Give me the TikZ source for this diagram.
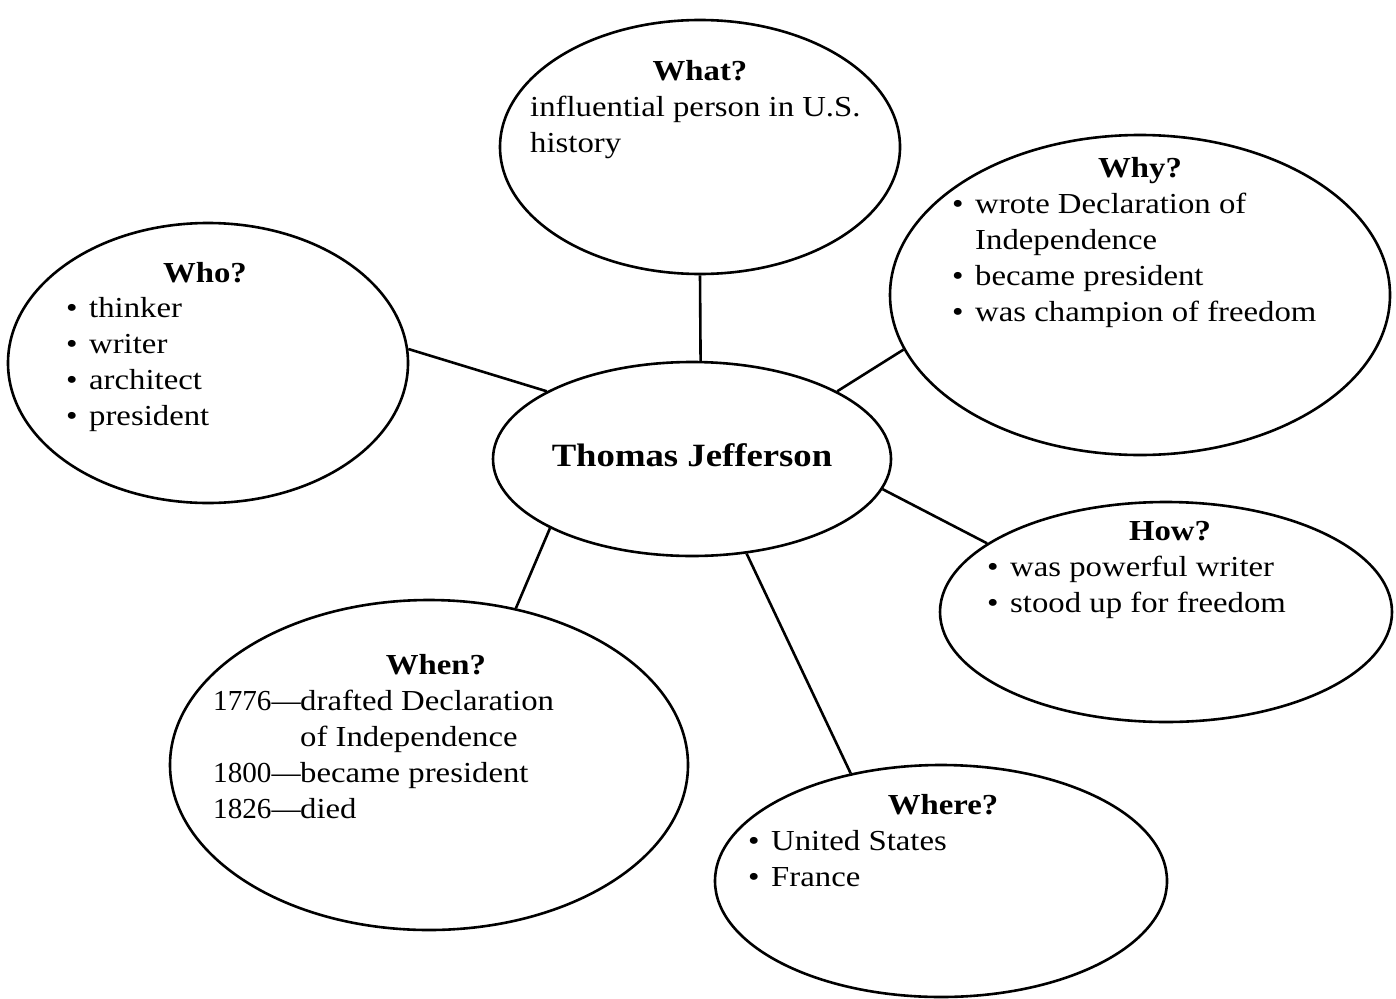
\documentclass[tikz,border=0pt]{standalone}
\usepackage{graphicx}
\usepackage{fontspec}
\setmainfont[FakeStretch=1.13]{Liberation Serif}
\usetikzlibrary{shapes.geometric}
\tikzset{
  bubble/.style={draw, shape=ellipse, line width=2.6pt, inner sep=0pt},
  link/.style={line width=2.6pt},
  head/.style={inner sep=0pt, anchor=base, font=\fontsize{29}{36}\selectfont\bfseries},
  body/.style={inner sep=0pt, anchor=north west, align=left, font=\fontsize{29}{36}\selectfont},
}
\newcommand{\bul}{\makebox[23pt][l]{\textbullet}}
\newcommand{\yr}[1]{\makebox[87pt][l]{\scalebox{0.89}[1]{#1—}}}
\begin{document}
\begin{tikzpicture}[x=1pt,y=-1pt]
\useasboundingbox (0,0) rectangle (1396,998);
% ellipses
\node[bubble, minimum width=400pt, minimum height=254pt] (what) at (700,147) {};
\node[bubble, minimum width=400pt, minimum height=280pt] (who) at (208,363) {};
\node[bubble, minimum width=500pt, minimum height=320pt] (why) at (1140,295) {};
\node[bubble, minimum width=398pt, minimum height=194pt] (tj) at (692,459) {};
\node[bubble, minimum width=452pt, minimum height=220pt] (how) at (1166,612) {};
\node[bubble, minimum width=518pt, minimum height=330pt] (when) at (429,765) {};
\node[bubble, minimum width=452pt, minimum height=232pt] (where) at (941,881) {};
% connectors
\draw[link] (what.270) -- (tj.85);
\draw[link] (who.4) -- (tj.155);
\draw[link] (why.193) -- (tj.25);
\draw[link] (how.159) -- (tj.351);
\draw[link] (when.61.5) -- (tj.206.6);
\draw[link] (where.130) -- (tj.300.4);
% texts
\node[inner sep=0pt, anchor=base, font=\fontsize{32.5}{36}\selectfont\bfseries] (tjt) at (692,466) {Thomas Jefferson};
\node[head] (whath) at (700,81) {What?};
\node[body] (whatb) at (530,91) {\strut influential person in U.S.\\history};
\node[head] (whyh) at (1140,177) {Why?};
\node[body] (whyb) at (952,188) {\strut\bul wrote Declaration of\\\hspace*{23pt}Independence\\\bul became president\\\bul was champion of freedom};
\node[head] (whoh) at (205,282) {Who?};
\node[body] (whob) at (66,292) {\strut\bul thinker\\\bul writer\\\bul architect\\\bul president};
\node[head] (howh) at (1170,540) {How?};
\node[body] (howb) at (987,551) {\strut\bul was powerful writer\\\bul stood up for freedom};
\node[head] (whenh) at (436,674) {When?};
\node[body] (whenb) at (213,685) {\strut\yr{1776}drafted Declaration\\\hspace*{87pt}of Independence\\\yr{1800}became president\\\yr{1826}died};
\node[head] (whereh) at (943,814) {Where?};
\node[body] (whereb) at (748,825) {\strut\bul United States\\\bul France};
\end{tikzpicture}
\end{document}
